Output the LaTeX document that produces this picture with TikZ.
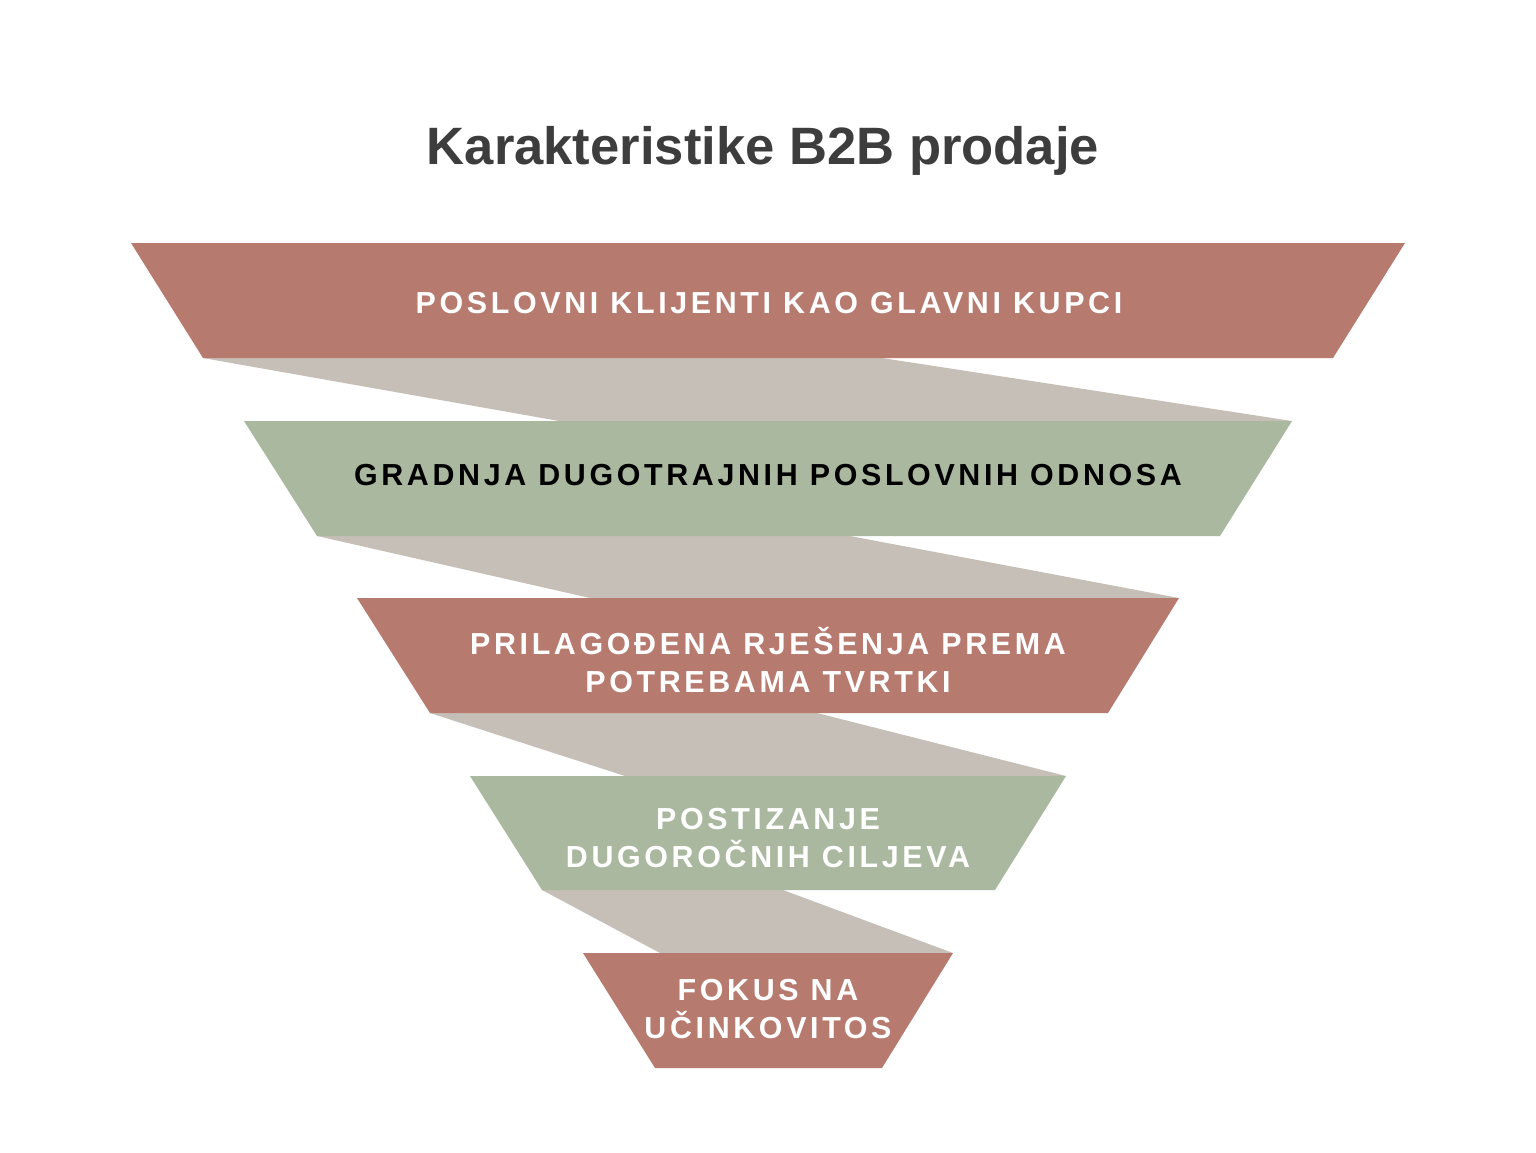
\documentclass[tikz,border=0pt]{standalone}
\usepackage{fontspec}
\setmainfont{Liberation Sans}
\newfontfamily\levelfont[LetterSpace=12]{Liberation Sans}
\usepackage{tikz}
\usetikzlibrary{positioning}
\definecolor{funnelred}{HTML}{B77A6F}
\definecolor{funnelgreen}{HTML}{A9B89E}
\definecolor{ribbongray}{HTML}{C6BFB7}
\definecolor{titlegray}{HTML}{3D3D3D}

\begin{document}
\begin{tikzpicture}[x=0.5pt, y=-0.5pt, every node/.style={inner sep=0pt},
		level/.style={anchor=base, align=center, text=white, font=\levelfont\bfseries\fontsize{15.2}{18.8}\selectfont},
		ribbon/.style={fill=ribbongray}]
		\useasboundingbox (0,0) rectangle (1536,1152);
		\node[anchor=base, text=titlegray, font=\bfseries\fontsize{26.3}{30}\selectfont] (title) at (763,164.5) {Karakteristike B2B prodaje};
		
		% gray ribbons between the levels
		\fill[ribbon] (203,358) -- (882,358) -- (1292,421) -- (559,421) -- cycle;
		\fill[ribbon] (317,536) -- (850,536) -- (1179,598) -- (590,598) -- cycle;
		\fill[ribbon] (430,713) -- (817,713) -- (1066,776) -- (625,776) -- cycle;
		\fill[ribbon] (542,890) -- (783,890) -- (953,953) -- (660,953) -- cycle;
		
		% funnel levels
		\fill[funnelred] (131,243) -- (1405,243) -- (1333,358) -- (203,358) -- cycle;
		\fill[funnelgreen] (244,421) -- (1292,421) -- (1220,536) -- (317,536) -- cycle;
		\fill[funnelred] (357,598) -- (1179,598) -- (1108,713) -- (430,713) -- cycle;
		\fill[funnelgreen] (470,776) -- (1066,776) -- (995,890) -- (542,890) -- cycle;
		\fill[funnelred] (583,953) -- (953,953) -- (882,1068) -- (655,1068) -- cycle;
		
		% labels, anchored at the baseline of their last line
		\node[level] (clients) at (769,313.5) {POSLOVNI KLIJENTI KAO GLAVNI KUPCI};
		\node[level, text=black] (relations) at (768,485) {GRADNJA DUGOTRAJNIH POSLOVNIH ODNOSA};
		\node[level] (solutions) at (768,692) {PRILAGOĐENA RJEŠENJA PREMA\\POTREBAMA TVRTKI};
		\node[level] (goals) at (768,867) {POSTIZANJE\\DUGOROČNIH CILJEVA};
		\node[level] (focus) at (768,1038) {FOKUS NA\\UČINKOVITOS};
\end{tikzpicture}
\end{document}
